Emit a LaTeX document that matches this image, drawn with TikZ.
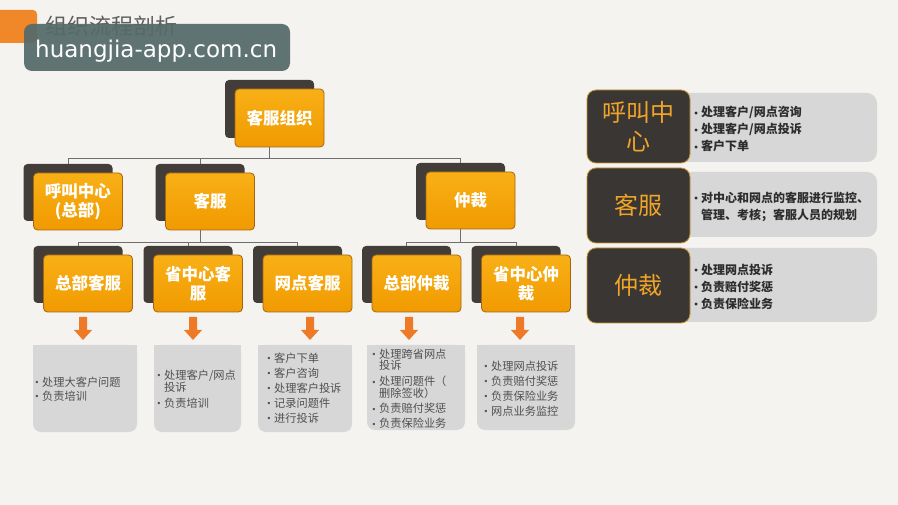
\documentclass[tikz,border=0pt]{standalone}
\usepackage{fontspec}
\setmainfont{Noto Sans CJK SC}
\newfontfamily\wmfont{DejaVu Sans}
\newfontfamily\symfont{DejaVu Sans}
\usetikzlibrary{shadows,calc}
\definecolor{bgcol}{RGB}{244,243,239}
\definecolor{shadowcol}{RGB}{66,61,57}
\definecolor{otop}{RGB}{248,176,22}
\definecolor{obot}{RGB}{240,154,0}
\definecolor{oborder}{RGB}{165,102,20}
\definecolor{arrcol}{RGB}{238,122,40}
\definecolor{gboxcol}{RGB}{215,215,215}
\definecolor{gtext}{RGB}{80,80,80}
\definecolor{rtext}{RGB}{45,45,45}
\definecolor{darkcol}{RGB}{58,54,51}
\definecolor{panborder}{RGB}{200,150,50}
\definecolor{pantext}{RGB}{240,165,40}
\definecolor{linecol}{RGB}{110,110,110}
\definecolor{tabcol}{RGB}{240,135,40}
\definecolor{titlecol}{RGB}{95,95,95}
\definecolor{wmcol}{RGB}{85,106,106}
\newcommand\bul{\makebox[7.5pt][l]{\raisebox{0.5pt}{\symfont\fontsize{8}{8}\selectfont •}}}
\newcommand\myarrow[1]{\fill[arrcol] (#1-4,317) -- (#1+4,317) -- (#1+4,330) -- (#1+9,330) -- (#1,340) -- (#1-9,330) -- (#1-4,330) -- cycle;}
\newcommand\gbox[4]{\fill[gboxcol, rounded corners=8pt] (#1,#2) rectangle (#3,#4); \fill[gboxcol] (#1,#2) rectangle (#3,#2+30);}
\begin{document}
\begin{tikzpicture}[x=1pt,y=-1pt,
  obox/.style={draw=oborder, line width=0.8pt, rounded corners=4pt,
    minimum width=89pt, minimum height=57pt, inner sep=2pt,
    top color=otop, bottom color=obot, text=white,
    font=\bfseries\fontsize{16.5}{19.5}\selectfont, align=center,
    general shadow={fill=shadowcol, shadow xshift=-10pt, shadow yshift=9pt}},
  conn/.style={draw=linecol, line width=0.9pt},
  dbox/.style={fill=darkcol, draw=panborder, line width=0.8pt, rounded corners=9pt,
    minimum width=103pt, text=pantext, align=center,
    font=\fontsize{24}{29}\selectfont},
  btext/.style={anchor=west, inner sep=0pt, align=left, text=gtext,
    font=\fontsize{11.2}{12}\selectfont},
  rtextst/.style={anchor=west, inner sep=0pt, align=left, text=rtext,
    font=\bfseries\fontsize{12}{17}\selectfont}]
\fill[bgcol] (0,0) rectangle (898,505);
\useasboundingbox (0,0) rectangle (898,505);

% title
\fill[tabcol, rounded corners=4pt] (-10,10) rectangle (37,43);
\node[anchor=west, text=titlecol, font=\fontsize{22}{26}\selectfont, inner sep=0pt] (title) at (45,26) {组织流程剖析};
\fill[wmcol, opacity=0.93, rounded corners=8pt] (24,24) rectangle (290,71);
\node[anchor=base west, text=white, font=\wmfont\fontsize{23}{26}\selectfont, inner sep=0pt] (wm) at (35,58) {huangjia-app.com.cn};

% org chart nodes
\node[obox, minimum height=58pt] (top) at (279.5,118) {客服组织};
\node[obox] (hj) at (78,201.5) {呼叫中心\\(总部)};
\node[obox] (kf) at (210,201.5) {客服};
\node[obox] (zc) at (470.5,200.5) {仲裁};
\node[obox] (zbkf) at (88,283.5) {总部客服};
\node[obox] (sjkf) at (198,283.5) {省中心客\\服};
\node[obox] (wdkf) at (307.5,283.5) {网点客服};
\node[obox] (zbzc) at (416.5,283.5) {总部仲裁};
\node[obox] (sjzc) at (526,283.5) {省中心仲\\裁};

% shadow tops
\coordinate (s-hj) at ([xshift=-10pt,yshift=9pt]hj.north);
\coordinate (s-kf) at ([xshift=-10pt,yshift=9pt]kf.north);
\coordinate (s-zc) at ([xshift=-10pt,yshift=9pt]zc.north);
\coordinate (s-zbkf) at ([xshift=-10pt,yshift=9pt]zbkf.north);
\coordinate (s-sjkf) at ([xshift=-10pt,yshift=9pt]sjkf.north);
\coordinate (s-wdkf) at ([xshift=-10pt,yshift=9pt]wdkf.north);
\coordinate (s-zbzc) at ([xshift=-10pt,yshift=9pt]zbzc.north);
\coordinate (s-sjzc) at ([xshift=-10pt,yshift=9pt]sjzc.north);

% connectors
\draw[conn] ([xshift=-10pt]top.south) -- ++(0,11) coordinate (j1);
\draw[conn] (s-hj) |- (j1) -| (s-zc);
\draw[conn] (s-kf) -- (s-kf |- j1);
\draw[conn] ([xshift=-10pt]kf.south) -- ++(0,12) coordinate (j2);
\draw[conn] (s-zbkf) |- (j2) -| (s-wdkf);
\draw[conn] (s-sjkf) -- (s-sjkf |- j2);
\draw[conn] ([xshift=-10pt]zc.south) -- ++(0,13) coordinate (j3);
\draw[conn] (s-zbzc) |- (j3) -| (s-sjzc);

% arrows
\myarrow{83}
\myarrow{193}
\myarrow{310}
\myarrow{409}
\myarrow{520}

% bottom boxes
\gbox{33}{345}{137}{432}
\gbox{154}{345}{241}{432}
\gbox{258}{345}{352}{432}
\gbox{367}{345}{465}{430}
\gbox{477}{345}{575}{430}

\node[btext] (t1) at (34.5,389) {\bul 处理大客户问题\\[2pt]\bul 负责培训};
\node[btext] (t2) at (156.5,389) {\bul 处理客户/网点\\\phantom{\bul}投诉\\[4pt]\bul 负责培训};
\node[btext] (t3) at (266.5,388) {\bul 客户下单\\[3pt]\bul 客户咨询\\[3pt]\bul 处理客户投诉\\[3pt]\bul 记录问题件\\[3pt]\bul 进行投诉};
\node[btext, font=\fontsize{11.2}{11.5}\selectfont] (t4) at (371.5,389) {\bul 处理跨省网点\\\phantom{\bul}投诉\\[4.5pt]\bul 处理问题件（\\\phantom{\bul}删除签收）\\[4pt]\bul 负责赔付奖惩\\[3.5pt]\bul 负责保险业务};
\node[btext] (t5) at (483.5,388.5) {\bul 处理网点投诉\\[3pt]\bul 负责赔付奖惩\\[3pt]\bul 负责保险业务\\[3pt]\bul 网点业务监控};

% right panel
\fill[gboxcol, rounded corners=10pt] (670,93) rectangle (877,162);
\fill[gboxcol, rounded corners=10pt] (670,172) rectangle (877,237);
\fill[gboxcol, rounded corners=10pt] (670,248) rectangle (877,322);
\node[dbox, minimum height=73pt] (p1) at (638.5,126.5) {呼叫中\\心};
\node[dbox, minimum height=75pt] (p2) at (638.5,205.5) {客服};
\node[dbox, minimum height=75pt] (p3) at (638.5,285.5) {仲裁};
\node[rtextst] (r1) at (693.5,129) {\bul 处理客户/网点咨询\\\bul 处理客户/网点投诉\\\bul 客户下单};
\node[rtextst] (r2) at (693.5,206.5) {\bul 对中心和网点的客服进行监控、\\\phantom{\bul}管理、考核；客服人员的规划};
\node[rtextst] (r3) at (693.5,286.5) {\bul 处理网点投诉\\\bul 负责赔付奖惩\\\bul 负责保险业务};
\end{tikzpicture}
\end{document}
